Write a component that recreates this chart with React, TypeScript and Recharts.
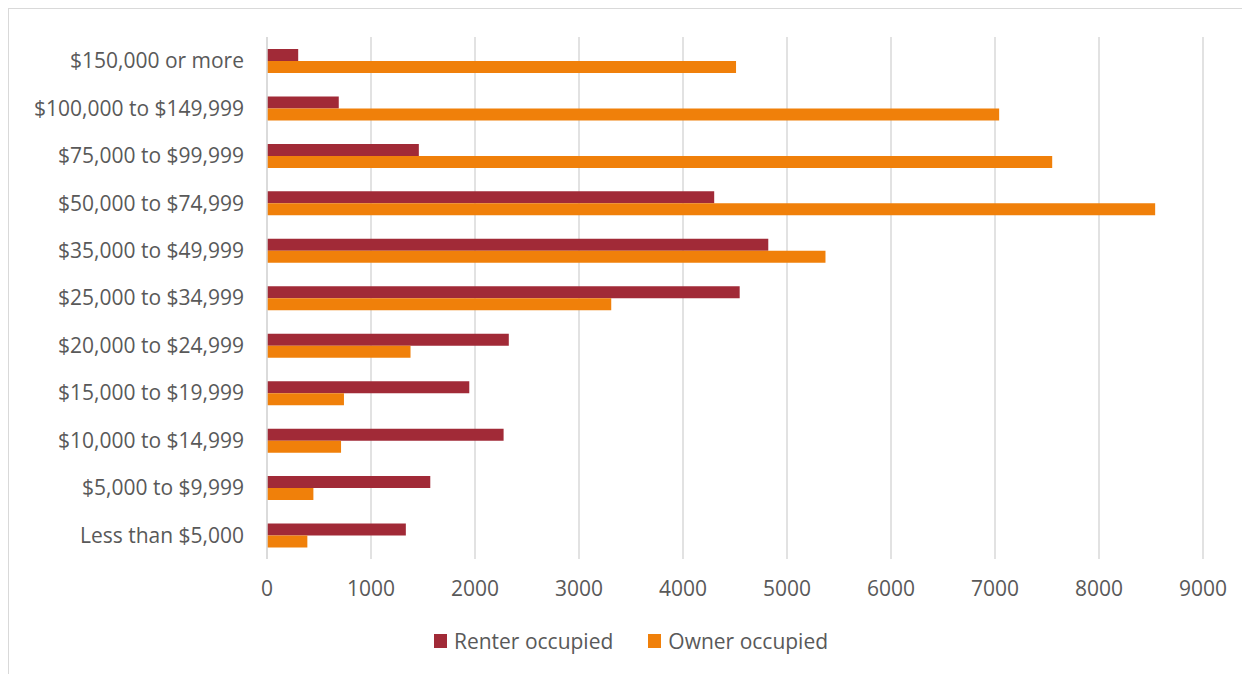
import { Bar, BarChart, CartesianGrid, Legend, XAxis, YAxis } from 'recharts';

const categories = [
  '$150,000 or more',
  '$100,000 to $149,999',
  '$75,000 to $99,999',
  '$50,000 to $74,999',
  '$35,000 to $49,999',
  '$25,000 to $34,999',
  '$20,000 to $24,999',
  '$15,000 to $19,999',
  '$10,000 to $14,999',
  '$5,000 to $9,999',
  'Less than $5,000',
];

const renterOccupied = [300, 690, 1460, 4300, 4820, 4545, 2325, 1945, 2275, 1570, 1335];
const ownerOccupied = [4510, 7040, 7550, 8540, 5370, 3310, 1380, 740, 712, 446, 388];

const xTicks = [0, 1000, 2000, 3000, 4000, 5000, 6000, 7000, 8000, 9000];

const seriesOrder = ['Renter occupied', 'Owner occupied'];

const data = categories.map((name, i) => ({
  name,
  renter: renterOccupied[i],
  owner: ownerOccupied[i],
}));

const textColor = '#595959';
const gridColor = '#d9d9d9';

const renderLegend = (props: any) => {
  const payload = [...(props.payload || [])].sort(
    (a: any, b: any) => seriesOrder.indexOf(a.value) - seriesOrder.indexOf(b.value)
  );
  return (
    <div style={{ display: 'flex', justifyContent: 'center', gap: 35, fontSize: 21, color: textColor }}>
      {payload.map((entry: any) => (
        <div key={entry.value} style={{ display: 'flex', alignItems: 'center' }}>
          <span style={{ width: 13, height: 14, background: entry.color, marginRight: 7, display: 'inline-block' }} />
          <span>{entry.value}</span>
        </div>
      ))}
    </div>
  );
};

export default function App() {
  return (
    <div
      style={{
        marginLeft: -1,
        marginTop: -1,
        width: 1260,
        height: 680,
        borderTop: `2px solid ${gridColor}`,
        borderLeft: `2px solid ${gridColor}`,
        fontFamily: '"Open Sans", sans-serif',
        boxSizing: 'border-box',
      }}
    >
      <BarChart
        layout="vertical"
        width={1242}
        height={660}
        data={data}
        barSize={12}
        barGap={0}
        margin={{ top: 28, right: 48, bottom: 0, left: 0 }}
      >
        <CartesianGrid horizontal={false} stroke={gridColor} strokeWidth={1.5} />
        <XAxis
          type="number"
          domain={[0, 9000]}
          ticks={xTicks}
          axisLine={false}
          tickLine={false}
          tickMargin={16}
          height={82}
          tick={{ fill: textColor, fontSize: 21 }}
        />
        <YAxis
          type="category"
          dataKey="name"
          width={258}
          interval={0}
          axisLine={{ stroke: gridColor, strokeWidth: 1.5 }}
          tickLine={false}
          tickMargin={17}
          tick={{ fill: textColor, fontSize: 21 }}
        />
        <Legend
          verticalAlign="bottom"
          content={renderLegend}
          wrapperStyle={{ left: 0, width: 1244, top: 618 }}
        />
        <Bar dataKey="renter" name="Renter occupied" fill="#A12A37" isAnimationActive={false} />
        <Bar dataKey="owner" name="Owner occupied" fill="#F0800A" isAnimationActive={false} />
      </BarChart>
    </div>
  );
}
